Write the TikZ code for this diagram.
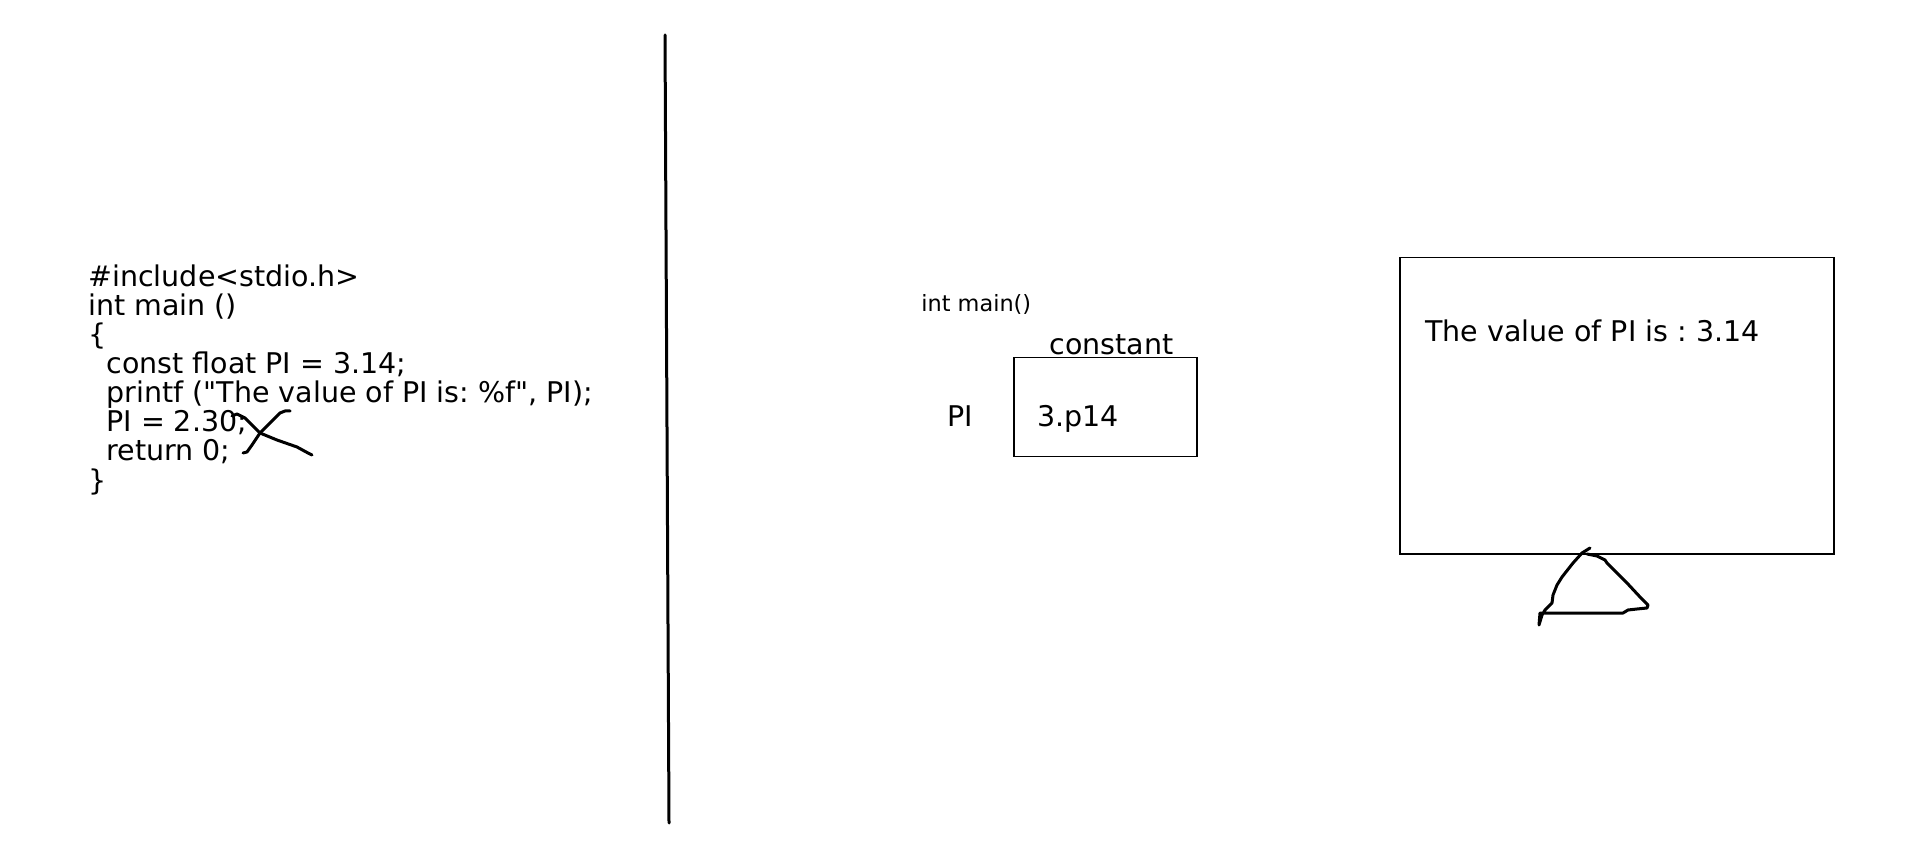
\documentclass[tikz,border=0pt]{standalone}
\usepackage{fontspec}
\newfontfamily\dejavu{DejaVu Sans}
\usetikzlibrary{positioning}
\frenchspacing
\tikzset{
  codeline/.style={anchor=base west,inner sep=0pt,font=\dejavu\fontsize{14.25}{14.5}\selectfont},
  smalltext/.style={anchor=base west,inner sep=0pt,font=\dejavu\fontsize{11.2}{12}\selectfont},
  box/.style={draw,line width=0.75pt,anchor=north west,inner sep=0pt},
  pen/.style={line width=1.5pt,line cap=round,line join=round}
}
\begin{document}
\begin{tikzpicture}[x=0.5pt,y=-0.5pt]
\useasboundingbox (0,0) rectangle (1920,865);

% source code
\node[codeline] (c1) at (88,287) {\#include<stdio.h>};
\node[codeline] (c2) at (88,316) {int main ()};
\node[codeline] (c3) at (88,345) {\{};
\node[codeline] (c4) at (106,374) {const float PI = 3.14;};
\node[codeline] (c5) at (106,403) {printf ("The value of PI is: \%f", PI);};
\node[codeline] (c6) at (106,432) {PI = 2.30;};
\node[codeline] (c7) at (106,461) {return 0;};
\node[codeline] (c8) at (88,490) {\}};

% cross over the assignment
\draw[pen] plot coordinates {(232,416) (237,414) (245,418) (260,433) (277,440) (297,447) (308,453) (312,455)};
\draw[pen] plot coordinates {(243,453) (247,452) (252,445) (260,433) (270,423) (280,413) (285,411) (290,411)};

% divider
\coordinate (dtop) at (665,35);
\coordinate (dbot) at (669,823);
\draw[pen] (dtop) -- (dbot);

% memory
\node[smalltext] (fn) at (921,312) {int main()};
\node[box, minimum width=91.5pt, minimum height=49.5pt] (mem) at (1013,357) {};
\node[codeline] (kind) at (1049,355) {constant};
\node[codeline] (var) at (947,427) {PI};
\node[codeline] (val) at (1037,427) {3.p14};

% output screen
\node[box, minimum width=217pt, minimum height=148pt] (screen) at (1399,257) {};
\node[codeline] (out) at (1425,342) {The value of PI is : 3.14};
\draw[pen] plot coordinates {(1590,548) (1582,553) (1573,563) (1562,577) (1557,585) (1553,595) (1552,603) (1545,610) (1542,615) (1539,625) (1540,613) (1543,613) (1623,613) (1628,610) (1637,609) (1647,608) (1648,605) (1640,597) (1627,583) (1617,573) (1607,563) (1605,560) (1597,556) (1587,554)};
\end{tikzpicture}
\end{document}
